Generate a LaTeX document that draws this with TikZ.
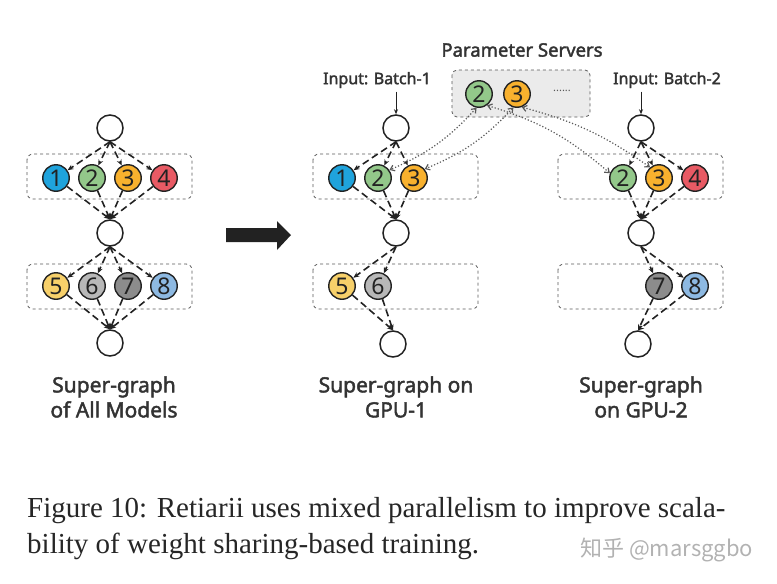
\documentclass[tikz,border=0pt]{standalone}
\usepackage{fontspec}
\setmainfont{Liberation Serif}
\newfontfamily\labfont[FakeBold=2]{Noto Sans}
\newfontfamily\numfont{Noto Sans}
\newfontfamily\cjkfont{Noto Sans CJK SC}
\usetikzlibrary{arrows.meta,calc}
\definecolor{cA}{HTML}{1FA3DC}
\definecolor{cB}{HTML}{93C88A}
\definecolor{cC}{HTML}{F8B12E}
\definecolor{cD}{HTML}{E85A64}
\definecolor{cE}{HTML}{F7D06A}
\definecolor{cF}{HTML}{B8B8B8}
\definecolor{cG}{HTML}{8C8C8C}
\definecolor{cH}{HTML}{8DB9E2}
\definecolor{ink}{HTML}{222222}
\definecolor{txt}{HTML}{333333}
\begin{document}
\begin{tikzpicture}[x=1pt,y=-1pt,
  plain/.style={circle,draw=ink,line width=1.5pt,minimum size=26pt,inner sep=0pt,fill=white},
  op/.style={circle,draw=ink,line width=1.4pt,minimum size=26.5pt,inner sep=0pt,
     font=\numfont\fontsize{23}{23}\selectfont,text=ink},
  grp/.style={draw=black!65,dashed,rounded corners=6pt,line width=0.8pt},
  dedge/.style={draw=ink,line width=1.6pt,dash pattern=on 7pt off 4pt,
     -{Stealth[length=6pt,width=5pt]}},
  sync/.style={draw=black!65,line width=1.2pt,dotted,
     {Straight Barb[length=4pt,width=6pt]}-{Straight Barb[length=4pt,width=6pt]}},
  lab/.style={font=\labfont\fontsize{21}{25}\selectfont,text=txt,align=center},
  inlab/.style={font=\labfont\fontsize{16}{18}\selectfont,text=txt},
  inarrow/.style={draw=ink,line width=0.9pt,-{Stealth[length=5pt,width=4pt]}}
]
\useasboundingbox (0,0) rectangle (777,584);

% ---------- Left: super-graph of all models ----------
\draw[grp] (27,154) rectangle (192,199);
\draw[grp] (27,264) rectangle (192,309);
\node[plain] (LT) at (110,128) {};
\node[op,fill=cA] (L1) at (56,178) {1};
\node[op,fill=cB] (L2) at (92,178) {2};
\node[op,fill=cC] (L3) at (128,178) {3};
\node[op,fill=cD] (L4) at (164,178) {4};
\node[plain] (LM) at (110,233) {};
\node[op,fill=cE] (L5) at (56,286) {5};
\node[op,fill=cF] (L6) at (92,286) {6};
\node[op,fill=cG] (L7) at (128,286) {7};
\node[op,fill=cH] (L8) at (164,286) {8};
\node[plain] (LB) at (110,343) {};
\foreach \i in {1,2,3,4} {
  \draw[dedge] (LT.south) -- (L\i);
  \draw[dedge] (L\i) -- (LM.north);
}
\foreach \i in {5,6,7,8} {
  \draw[dedge] (LM.south) -- (L\i);
  \draw[dedge] (L\i) -- (LB.north);
}
\node[lab] (Llab) at (114,397) {Super-graph\\of All Models};

% ---------- big arrow ----------
\fill[ink] (226,228) -- (277,228) -- (277,221) -- (291,235) -- (277,250) -- (277,242) -- (226,242) -- cycle;

% ---------- GPU-1 ----------
\draw[grp] (313,154) rectangle (478,199);
\draw[grp] (313,264) rectangle (478,309);
\node[plain] (AT) at (396,128) {};
\node[op,fill=cA] (A1) at (342,178) {1};
\node[op,fill=cB] (A2) at (378,178) {2};
\node[op,fill=cC] (A3) at (414,178) {3};
\node[plain] (AM) at (396,233) {};
\node[op,fill=cE] (A5) at (342,286) {5};
\node[op,fill=cF] (A6) at (378,286) {6};
\node[plain] (AB) at (393,344) {};
\foreach \i in {1,2,3} {
  \draw[dedge] (AT.south) -- (A\i);
  \draw[dedge] (A\i) -- (AM.north);
}
\foreach \i in {5,6} {
  \draw[dedge] (AM.south) -- (A\i);
  \draw[dedge] (A\i) -- (AB.north);
}
\node[inlab] (Ain) at (377,80) {Input: Batch-1};
\draw[inarrow] (AT |- Ain.south) -- (AT.north);
\node[lab] (Alab) at (396,397) {Super-graph on\\GPU-1};

% ---------- GPU-2 ----------
\draw[grp] (558,154) rectangle (723,199);
\draw[grp] (558,264) rectangle (723,309);
\node[plain] (BT) at (641,128) {};
\node[op,fill=cB] (B2) at (623,178) {2};
\node[op,fill=cC] (B3) at (659,178) {3};
\node[op,fill=cD] (B4) at (695,178) {4};
\node[plain] (BM) at (641,233) {};
\node[op,fill=cG] (B7) at (659,286) {7};
\node[op,fill=cH] (B8) at (695,286) {8};
\node[plain] (BB) at (638,344) {};
\foreach \i in {2,3,4} {
  \draw[dedge] (BT.south) -- (B\i);
  \draw[dedge] (B\i) -- (BM.north);
}
\foreach \i in {7,8} {
  \draw[dedge] (BM.south) -- (B\i);
  \draw[dedge] (B\i) -- (BB.north);
}
\node[inlab] (Bin) at (667,80) {Input: Batch-2};
\draw[inarrow] (BT |- Bin.south) -- (BT.north);
\node[lab] (Blab) at (641,397) {Super-graph\\on GPU-2};

% ---------- Parameter servers ----------
\node[inlab,font=\labfont\fontsize{18.5}{20}\selectfont] (PSlab) at (522,50) {Parameter Servers};
\draw[grp,fill=black!8,rounded corners=5pt] (452,70) rectangle (590,117);
\node[op,fill=cB] (P2) at (479,94) {2};
\node[op,fill=cC] (P3) at (517,94) {3};
\node[font=\numfont\fontsize{11}{11}\selectfont,text=black!65] (Pdots) at (562,91) {......};

\draw[sync] (P2.260) to[bend left=12] (A2.35);
\draw[sync] (P3.255) to[bend left=12] (A3.40);
\draw[sync] (P2.305) to[bend left=12] (B2.160);
\draw[sync] (P3.290) to[bend left=10] (B3.130);

% ---------- caption ----------
\node[anchor=base west,inner sep=0pt,font=\fontsize{29}{29}\selectfont,text=black!85] (cap1) at (27,517) {Figure 10: Retiarii uses mixed parallelism to improve scala-};
\node[anchor=base west,inner sep=0pt,font=\fontsize{29}{29}\selectfont,text=black!85] (cap2) at (27,553) {bility of weight sharing-based training.};
\node[anchor=base west,inner sep=0pt,font=\cjkfont\fontsize{22}{22}\selectfont,text=black!30] (wm) at (580,556) {知乎 @marsggbo};
\end{tikzpicture}
\end{document}
